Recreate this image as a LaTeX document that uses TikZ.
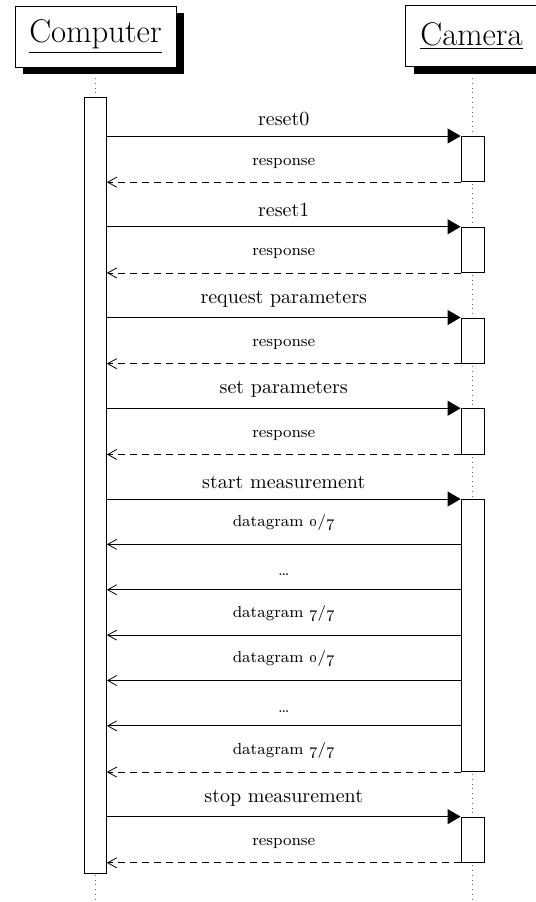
\documentclass[tikz,border=0pt]{standalone}
\usepackage{tikz}
\usetikzlibrary{arrows.meta, shadows, calc, positioning}

\newcommand{\dgram}[1]{datagram \oldstylenums{#1}/\oldstylenums{7}}
\def\compx{47.75}
\def\camx{236.25}
\def\msgstep{22.6875}

\tikzset{
    instbox/.style={rectangle, draw, fill=white, inner sep=0pt, minimum height=30.5pt,
                    font=\fontsize{16.4}{20}\selectfont,
                    drop shadow={opacity=1, fill=black, shadow xshift=4pt, shadow yshift=-3.5pt}},
    lifeline/.style={dotted, black!60},
    actbar/.style={rectangle, draw, fill=white, inner sep=0pt, minimum width=11.5pt, anchor=north},
    callmsg/.style={-{Triangle[length=6.5pt, width=7.5pt]}},
    replymsg/.style={dash pattern=on 3.5pt off 2.5pt, -{Straight Barb[length=4.5pt, width=5pt]}},
    datamsg/.style={-{Straight Barb[length=4.5pt, width=5pt]}},
    calllabel/.style={above, yshift=1.7pt},
    msglabel/.style={above, font=\footnotesize, yshift=3.4pt},
}

\begin{document}
\begin{tikzpicture}[x=1pt, y=-1pt]
    \useasboundingbox (0,0) rectangle (268,451);

    % Instances
    \node[instbox, minimum width=80.5pt] (comp) at (\compx,18.25) {\underline{Computer}};
    \node[instbox, minimum width=66pt] (cam) at (235.75,18) {\underline{Camera}};

    % Lifelines
    \draw[lifeline] (comp.south |- 0,39) -- (comp.south |- 0,450);
    \draw[lifeline] (\camx,39) coordinate (camtop) -- (\camx,450) coordinate (cambot);

    % Activation bars
    \node[actbar, minimum width=11pt, minimum height=388pt] (compbar) at (\compx,48.5) {};
    \foreach \a/\b [count=\i] in {0/1, 2/3, 4/5, 6/7, 8/14, 15/16} {
        \node[actbar, minimum height={(\b-\a)*\msgstep*1pt}] (cam\i) at (\camx,{68+\msgstep*\a}) {};
    }

    % Calls
    \foreach \i/\txt in {1/reset0, 2/reset1, 3/request parameters, 4/set parameters,
                         5/start measurement, 6/stop measurement} {
        \draw[callmsg] (compbar.east |- cam\i.north west) -- (cam\i.north west)
            node[midway, calllabel] {\txt};
    }

    % Responses
    \foreach \i in {1,2,3,4,6} {
        \draw[replymsg] (cam\i.south west) -- (compbar.east |- cam\i.south west)
            node[midway, msglabel] {response};
    }

    % Datagrams
    \foreach \k/\txt in {1/\dgram{0}, 2/\ldots, 3/\dgram{7}, 4/\dgram{0}, 5/\ldots} {
        \coordinate (dg\k) at ($(cam5.north west)+(0,{\msgstep*\k})$);
        \draw[datamsg] (dg\k) -- (compbar.east |- dg\k) node[midway, msglabel] {\txt};
    }
    \draw[replymsg] (cam5.south west) -- (compbar.east |- cam5.south west)
        node[midway, msglabel] {\dgram{7}};
\end{tikzpicture}
\end{document}
